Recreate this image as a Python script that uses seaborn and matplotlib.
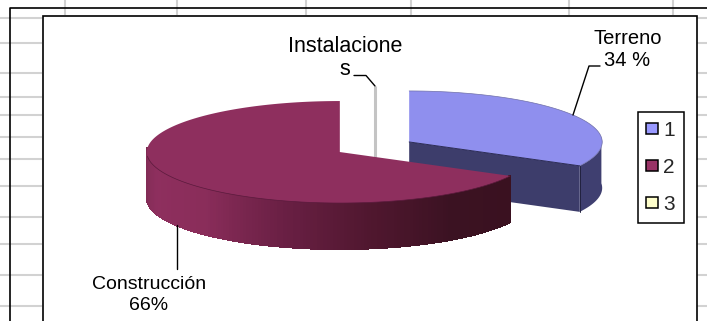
import numpy as np
import matplotlib
matplotlib.use("Agg")
import matplotlib.pyplot as plt
from matplotlib.patches import Polygon, Patch, Rectangle
import seaborn as sns

# Budget shares
slice_names = ["Terreno", "Construcción", "Instalaciones"]
slice_values = [34, 66, 0]
legend_labels = ["1", "2", "3"]
top_colors = ["#8F8FEE", "#8E2F5E", "#C4C4C4"]
legend_colors = ["#9999FF", "#993366", "#FFFFCC"]

# Spreadsheet grid behind the chart object
grid_rows = [18, 43, 73, 97, 115, 137, 159, 186, 217, 244, 275, 306]
grid_cols = [65, 177, 306, 411, 569, 673]

sns.set_theme(style="white")
plt.rcParams["font.family"] = ["Liberation Sans", "DejaVu Sans"]

CX, CY = 374.5, 147.0   # pie origin in pixels
RX, RY = 193.0, 51.0    # radii of the tilted top face
DEPTH = 46.0            # extrusion of the pie
EXPLODE = 0.205
TILT = 0.09             # perspective foreshortening of the far half

fig = plt.figure(figsize=(7.07, 3.21), dpi=100, facecolor="white")
ax = fig.add_axes([0, 0, 1, 1])
ax.set_xlim(0, 707)
ax.set_ylim(321, 0)
ax.axis("off")


def rim(deg, cx, cy):
    """Pixel position on a slice's rim, with the near half enlarged."""
    t = np.radians(deg)
    c, s = np.cos(t), np.sin(t)
    d = 1 + TILT * s
    return cx + RX * c * np.sqrt(1 - TILT ** 2) / d, cy - RY * (s + TILT) / d


# Sheet grid and frames
for y in grid_rows:
    ax.plot([0, 42], [y, y], color="#D2D2D2", lw=1.5, zorder=1, solid_capstyle="butt")
    ax.plot([697, 707], [y, y], color="#D2D2D2", lw=1.5, zorder=1, solid_capstyle="butt")
for x in grid_cols:
    ax.plot([x, x], [0, 15], color="#D2D2D2", lw=1.5, zorder=1, solid_capstyle="butt")
ax.plot([9.5, 9.5, 707], [321, 8, 8], color="black", lw=1.2, zorder=2)
ax.add_patch(Rectangle((42.5, 15.5), 654.5, 320, fc="white", ec="black", lw=1.2, zorder=2))

# Slice angles run clockwise from twelve o'clock
edges = 90 - np.cumsum([0] + slice_values) * 3.6
centres = []
for a0, a1 in zip(edges[:-1], edges[1:]):
    mid = np.radians((a0 + a1) / 2)
    centres.append((CX + EXPLODE * RX * np.cos(mid), CY - EXPLODE * RY * np.sin(mid)))

# Zero-sized slice: only its cut face shows
inst_x, inst_y = centres[2]
top_x, top_y = rim(edges[2], inst_x, inst_y)
ax.plot([inst_x, inst_x], [top_y, inst_y + DEPTH], color=top_colors[2], lw=2.2, zorder=3,
        solid_capstyle="butt")

# Terreno: cut face, outer wall and top
tx, ty = centres[0]
t_angles = np.linspace(edges[0], edges[1], 120)
t_rim = np.array([rim(a, tx, ty) for a in t_angles])
tip = t_rim[-1]
ax.add_patch(Polygon([(tx, ty), tuple(tip), (tip[0], tip[1] + DEPTH), (tx, ty + DEPTH)],
                     fc="#3D3D6B", ec="none", zorder=4))
front = np.array([rim(a, tx, ty) for a in np.linspace(edges[1], 0, 40)])
wall = np.vstack([front, (front + [0, DEPTH])[::-1]])
ax.add_patch(Polygon(wall, fc="#3F3F70", ec="none", zorder=4))
ax.plot([tip[0], tip[0]], [tip[1], tip[1] + DEPTH], color="#22223F", lw=0.7, zorder=5)
ax.add_patch(Polygon(np.vstack([[tx, ty], t_rim]), fc=top_colors[0], ec="none", zorder=6))
ax.plot(*t_rim.T, color="#6F6FA8", lw=0.5, zorder=6)
ax.plot([tx, tip[0]], [ty, tip[1]], color="#2A2A55", lw=0.7, zorder=6)

# Construcción: shaded outer wall built from narrow strips, then the top
mx, my = centres[1]
m_angles = np.linspace(edges[1], edges[2], 240)
m_rim = np.array([rim(a, mx, my) for a in m_angles])
shade = sns.blend_palette(["#7A2A50", "#8E2F5E", "#8A2D5A", "#6B2045", "#50172F", "#3B1222", "#3A1120"],
                          n_colors=160)
w_angles = np.linspace(-180, edges[1], len(shade) + 1)
for i, col in enumerate(shade):
    p, q = rim(w_angles[i], mx, my), rim(w_angles[i + 1], mx, my)
    ax.add_patch(Polygon([p, q, (q[0], q[1] + DEPTH), (p[0], p[1] + DEPTH)],
                         fc=col, ec=col, lw=0.8, antialiased=False, zorder=7))
ax.add_patch(Polygon(np.vstack([[mx, my], m_rim]), fc=top_colors[1], ec="none", zorder=8))
near = np.array([rim(a, mx, my) for a in np.linspace(-170, edges[1], 120)])
ax.plot(*near.T, color="#5A1A3C", lw=0.5, zorder=8)

# Callouts
ax.plot([354, 366, 375], [75.5, 75.5, 86], color="black", lw=1.0, zorder=9)
ax.plot([600, 589, 573], [66, 66, 115], color="black", lw=1.0, zorder=9)
ax.plot([176.5, 176.5], [225, 269], color="black", lw=1.0, zorder=9)
label_style = dict(ha="center", va="center", color="black", zorder=10)
ax.text(345, 58, "Instalacione\ns", fontsize=15.5, linespacing=1.15, **label_style)
ax.text(627.5, 50, f"{slice_names[0]}\n{slice_values[0]} %", fontsize=14.5, linespacing=1.2, **label_style)
ax.text(149, 295, f"{slice_names[1]}\n{slice_values[1]}%", fontsize=14, linespacing=1.25, **label_style)

# Legend
handles = [Patch(fc=c, ec="black", lw=1.1) for c in legend_colors]
leg = ax.legend(handles, legend_labels, loc="center", bbox_to_anchor=(660.5, 167.5),
                bbox_transform=ax.transData, fontsize=15, frameon=True, fancybox=False,
                framealpha=1, edgecolor="black", facecolor="white", borderpad=0.42,
                labelspacing=0.86, handlelength=0.56, handleheight=0.47, handletextpad=0.25,
                borderaxespad=0)
leg.get_frame().set_linewidth(1.1)
leg.set_zorder(11)

fig.savefig("out.png", dpi=100)
